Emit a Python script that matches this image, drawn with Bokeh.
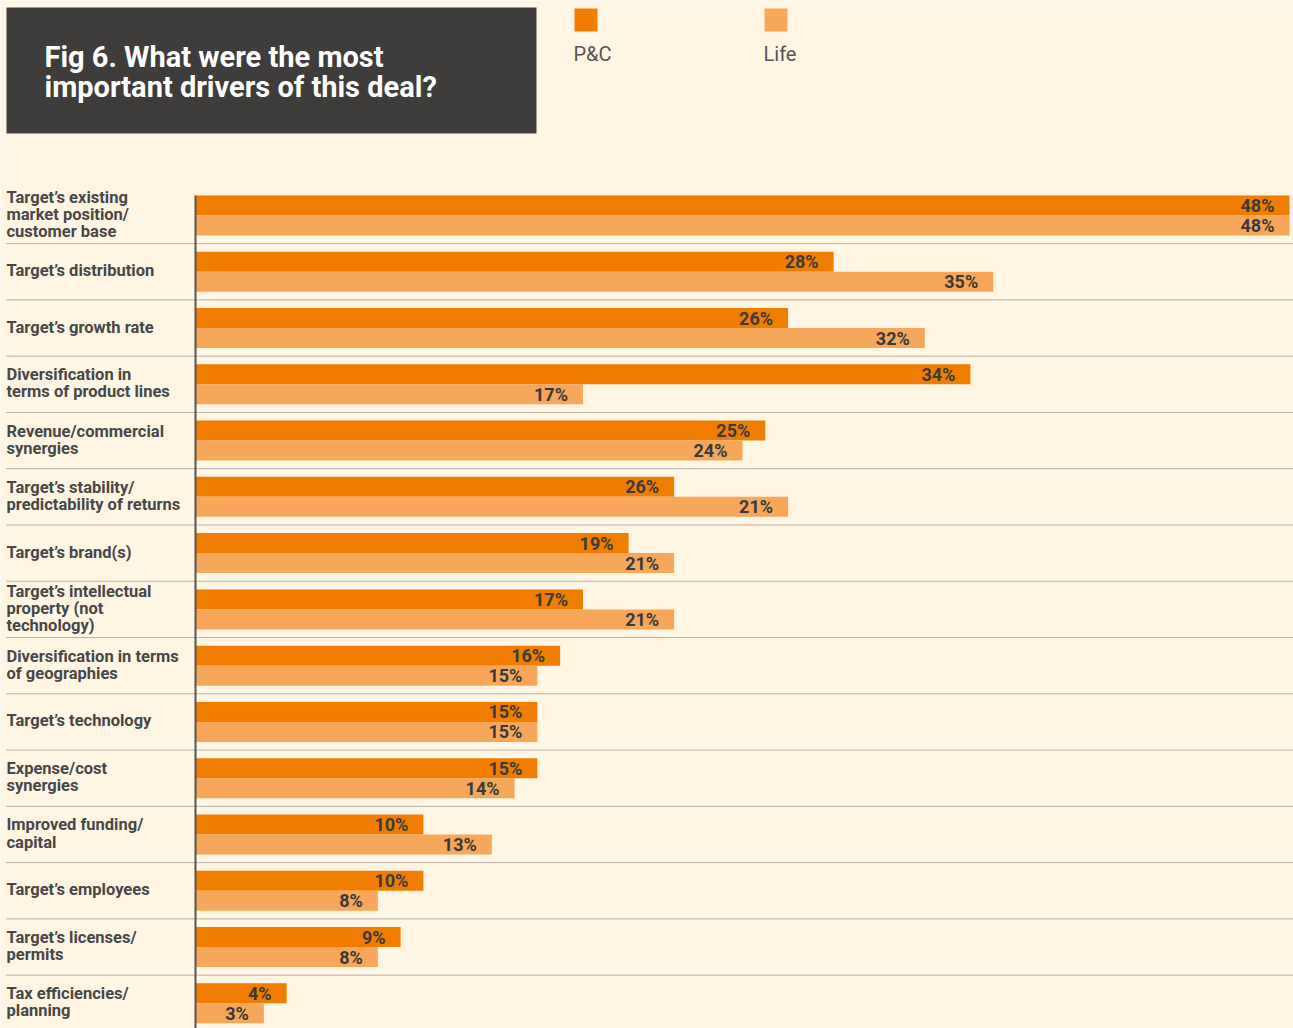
from bokeh.plotting import figure
from bokeh.models import ColumnDataSource, Range1d
from bokeh.transform import dodge
from bokeh.core.properties import value
from bokeh.embed import file_html
from bokeh.resources import INLINE

# ---------------- data ----------------
categories = [
    "Target\u2019s existing\nmarket position/\ncustomer base",
    "Target\u2019s distribution",
    "Target\u2019s growth rate",
    "Diversification in\nterms of product lines",
    "Revenue/commercial\nsynergies",
    "Target\u2019s stability/\npredictability of returns",
    "Target\u2019s brand(s)",
    "Target\u2019s intellectual\nproperty (not\ntechnology)",
    "Diversification in terms\nof geographies",
    "Target\u2019s technology",
    "Expense/cost\nsynergies",
    "Improved funding/\ncapital",
    "Target\u2019s employees",
    "Target\u2019s licenses/\npermits",
    "Tax efficiencies/\nplanning",
]
pc_values   = [48, 28, 26, 34, 25, 21, 19, 17, 16, 15, 15, 10, 10, 9, 4]
life_values = [48, 35, 32, 17, 24, 26, 21, 21, 15, 15, 14, 13, 8, 8, 3]
pc_labels   = ["48%", "28%", "26%", "34%", "25%", "26%", "19%", "17%", "16%", "15%", "15%", "10%", "10%", "9%", "4%"]
life_labels = ["48%", "35%", "32%", "17%", "24%", "21%", "21%", "21%", "15%", "15%", "14%", "13%", "8%", "8%", "3%"]
series_names = ["P&C", "Life"]
series_colors = ["#F07D00", "#F6A75A"]

title_text = ["Fig 6. What were the most", "important drivers of this deal?"]

BG = "#FEF5E3"
FONT = "Roboto"
W = 1293
H = 1028

px_per_pct = 1094 / 48.0
x_start = -195 / px_per_pct
x_end = (W - 195) / px_per_pct
row_px = 56.27
y_top = -215 / row_px
y_bottom = y_top + H / row_px

p = figure(width=W, height=H, x_range=Range1d(x_start, x_end),
           y_range=Range1d(y_bottom, y_top),
           output_backend="svg", toolbar_location=None, min_border=0)
p.extra_x_ranges = {"px": Range1d(0, W)}
p.extra_y_ranges = {"px": Range1d(H, 0)}
p.axis.visible = False
p.grid.visible = False
p.outline_line_color = None
p.background_fill_color = BG
p.border_fill_color = BG

# ---------------- header (pixel ranges) ----------------
hk = dict(x_range_name="px", y_range_name="px")
p.quad(left=6, right=536, top=7, bottom=133, fill_color="#3E3D3B", line_color=None, **hk)
p.text(x=[44, 44], y=[56, 86], text=title_text, text_font=value(FONT), text_font_style="bold",
       text_font_size="29px", text_color="#FFFFFF", text_baseline="middle", text_align="left", **hk)

leg = ColumnDataSource(dict(x=[574, 764], name=series_names, color=series_colors))
p.quad(left="x", right=dodge("x", 23), top=8, bottom=31, fill_color="color", line_color=None,
       source=leg, **hk)
p.text(x=dodge("x", -1), y=53, text="name", source=leg, text_font=value(FONT),
       text_font_size="20px", text_color="#555555", text_baseline="middle", text_align="left", **hk)

# ---------------- chart ----------------
n = len(categories)
src = ColumnDataSource(dict(
    y=list(range(n)), cat=categories, pc=pc_values, life=life_values,
    pc_lbl=pc_labels, life_lbl=life_labels,
))

bar_h = 20 / row_px
off = 10 / row_px

sep_y = [i + 0.5 for i in range(n - 1)]
p.segment(x0=x_start + 6 / px_per_pct, x1=x_end, y0=sep_y, y1=sep_y,
          line_color="#6E6E6E", line_width=1, line_dash="1 1")

p.hbar(y=dodge("y", -off), left=0, right="pc", height=bar_h, fill_color=series_colors[0],
       line_color=None, source=src)
p.hbar(y=dodge("y", off), left=0, right="life", height=bar_h, fill_color=series_colors[1],
       line_color=None, source=src)

p.segment(x0=0, x1=0, y0=-off * 2, y1=y_bottom, line_color="#555555", line_width=2)

lbl_kw = dict(text_font=value(FONT), text_font_style="bold", text_font_size="18px",
              text_color="#3A3A3A", text_align="right", text_baseline="middle", x_offset=-15)
p.text(x="pc", y=dodge("y", -off), text="pc_lbl", source=src, **lbl_kw)
p.text(x="life", y=dodge("y", off), text="life_lbl", source=src, **lbl_kw)

p.text(x=x_start, y="y", text="cat", source=src, x_offset=6, y_offset=-1, text_font=value(FONT),
       text_font_style="bold", text_font_size="16.5px", text_color="#474747",
       text_align="left", text_baseline="middle", text_line_height=0.9)

open("out.html", "w").write(file_html(p, INLINE))
